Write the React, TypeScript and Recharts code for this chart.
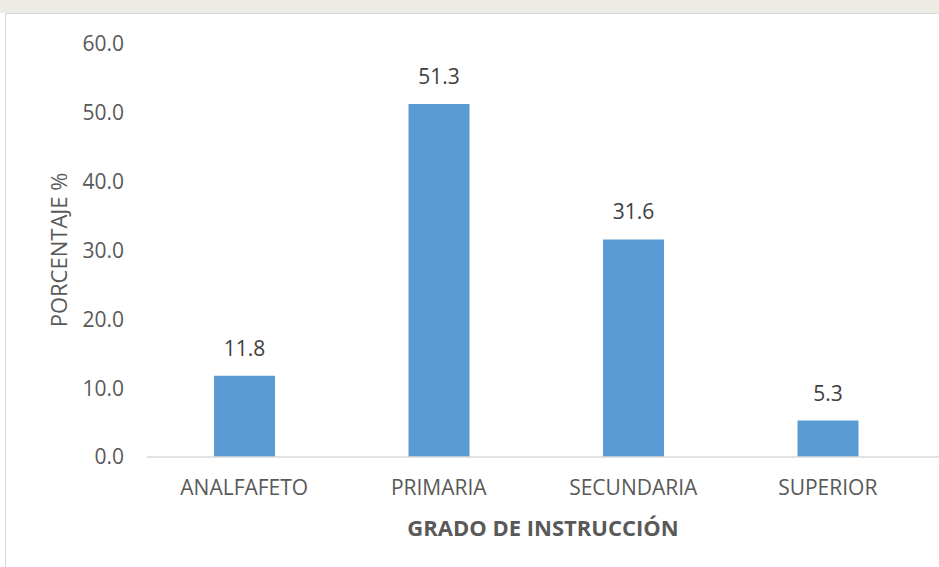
import { BarChart, Bar, XAxis, YAxis, LabelList, Label } from "recharts";

const categories = ["ANALFAFETO", "PRIMARIA", "SECUNDARIA", "SUPERIOR"];
const percentages = [11.8, 51.3, 31.6, 5.3];
const yTicks = [0, 10, 20, 30, 40, 50, 60];

const chartData = categories.map((name, i) => ({ name, value: percentages[i] }));

const FONT = "'Open Sans', 'Liberation Sans', sans-serif";
const TEXT = "#595959";

function YTitle() {
  return (
    <text
      x={58}
      y={250}
      transform="rotate(-90 58 250)"
      textAnchor="middle"
      dominantBaseline="central"
      fill={TEXT}
      fontSize={22}
      fontFamily={FONT}
    >
      PORCENTAJE %
    </text>
  );
}

export default function App() {
  return (
    <div style={{ position: "absolute", left: 0, top: 0, width: 939, height: 567, background: "#fff", overflow: "hidden" }}>
      {/* faint watermark strip above the chart frame */}
      <div style={{ position: "absolute", left: 0, top: 0, width: 939, height: 13, background: "#ecece4" }} />
      <div
        style={{
          position: "absolute",
          left: 5,
          top: 13,
          width: 939,
          height: 560,
          borderLeft: "1px solid #d9d9d9",
          borderTop: "1px solid #d9d9d9",
          background: "#fff",
        }}
      />
      <div style={{ position: "absolute", left: 0, top: 0 }}>
        <BarChart width={939} height={567} data={chartData} margin={{ top: 44, right: 0, bottom: 0, left: 0 }}>
          <YAxis
            width={147}
            domain={[0, 60]}
            ticks={yTicks}
            tickFormatter={(v: number) => v.toFixed(1)}
            axisLine={false}
            tickLine={false}
            tickSize={0}
            tickMargin={23}
            tick={{ fill: TEXT, fontSize: 21, fontFamily: FONT }}
          >
            <Label content={() => <YTitle />} />
          </YAxis>
          <XAxis
            dataKey="name"
            height={110}
            padding={{ left: 0, right: 14 }}
            axisLine={{ stroke: "#d9d9d9", strokeWidth: 1.5 }}
            tickLine={false}
            tickSize={0}
            tickMargin={23}
            tick={{ fill: TEXT, fontSize: 21, fontFamily: FONT }}
          >
            <Label
              value="GRADO DE INSTRUCCIÓN"
              position="insideBottom"
              offset={31}
              fill={TEXT}
              fontSize={22}
              fontWeight="bold"
              fontFamily={FONT}
            />
          </XAxis>
          <Bar dataKey="value" fill="#5b9bd5" barSize={61} isAnimationActive={false}>
            <LabelList
              dataKey="value"
              position="top"
              offset={20}
              formatter={(v: number) => v.toFixed(1)}
              fill="#404040"
              fontSize={21}
              fontFamily={FONT}
            />
          </Bar>
        </BarChart>
      </div>
    </div>
  );
}
